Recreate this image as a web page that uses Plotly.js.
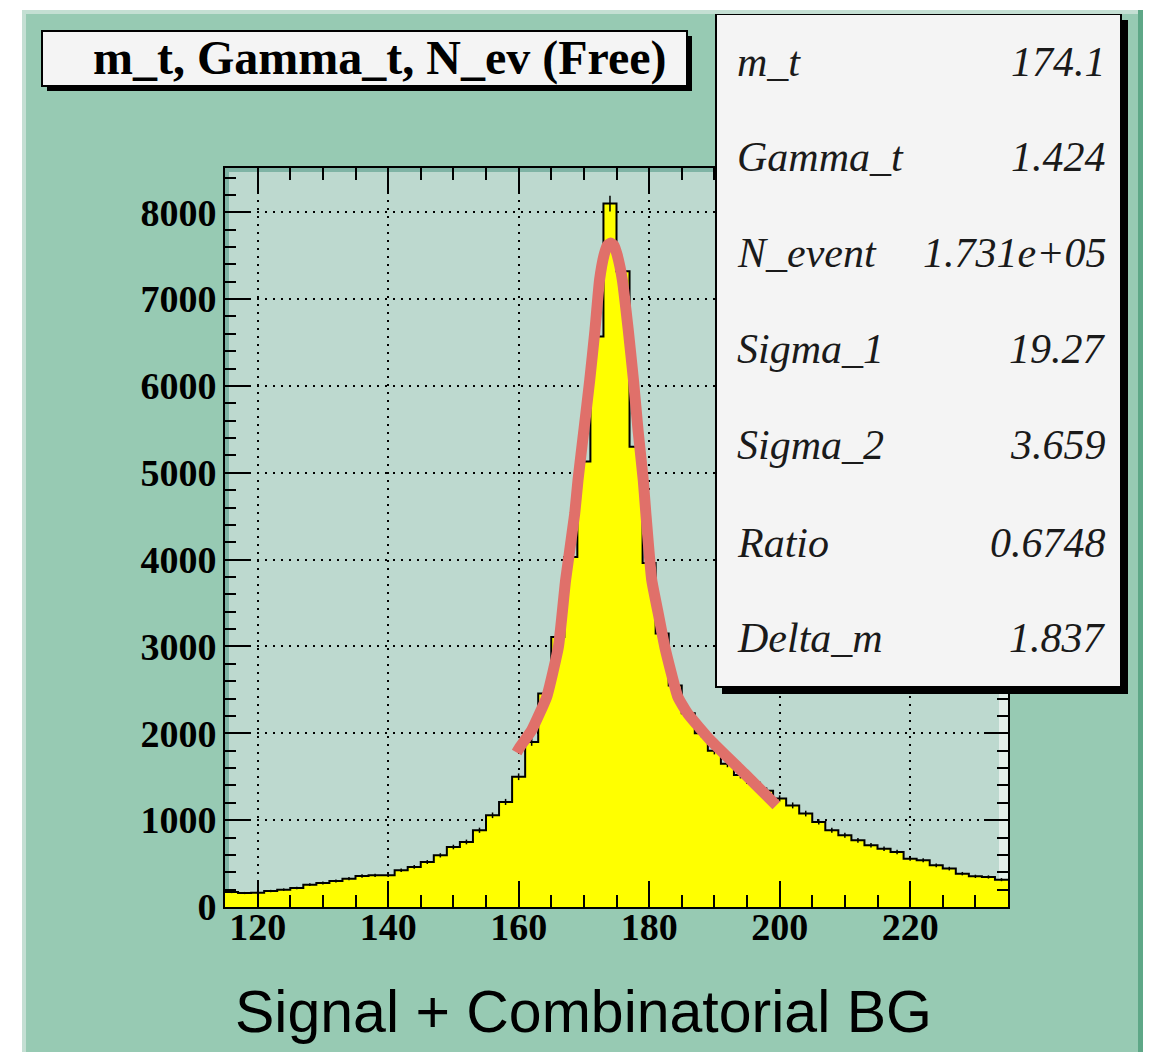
<!DOCTYPE html>
<html>
<head>
<meta charset="utf-8">
<script src="https://cdn.plot.ly/plotly-3.0.1.min.js"></script>
<style>
  html, body { margin: 0; padding: 0; background: #ffffff; }
  body { width: 1151px; height: 1052px; position: relative; overflow: hidden; }
  #chart { position: absolute; left: 22px; top: 10px; width: 1121px; height: 1042px; }
  .edge { position: absolute; pointer-events: none; }
</style>
</head>
<body>
<div id="chart"></div>
<div class="edge" style="left:22px;top:10px;width:1121px;height:4px;background:#c4dfd3;"></div>
<div class="edge" style="left:22px;top:10px;width:4px;height:1042px;background:#c4dfd3;"></div>
<div class="edge" style="left:1138px;top:10px;width:5px;height:1042px;background:#5ea787;"></div>
<script>
// ---- data ----
const massBins = [116,118,120,122,124,126,128,130,132,134,136,138,140,142,144,146,148,150,152,154,
                  156,158,160,162,164,166,168,170,172,174,176,178,180,182,184,186,188,190,192,194,
                  196,198,200,202,204,206,208,210,212,214,216,218,220,222,224,226,228,230,232,234];
const counts = [173,161,165,184,200,219,257,277,300,326,357,365,365,423,461,518,595,691,749,884,
                1056,1210,1500,1900,2460,3110,4030,5130,6570,8100,7320,5300,3960,3150,2550,2230,2000,1800,1650,1520,
                1430,1340,1250,1170,1076,980,884,826,768,711,672,634,557,538,480,442,384,353,346,315];
const binWidth = 2;

const fitMass = [159.7,160.2,162.0,164.3,166.1,167.2,168.6,169.1,170.0,170.9,171.7,172.4,173.1,173.6,174.1,174.6,175.1,
                 175.9,176.8,177.6,178.3,179.1,179.5,180.4,181.4,182.4,184.4,185.9,189.4,194.6,199.5];
const fitValues = [1780,1843,2036,2419,2995,3764,4532,4916,5492,6069,6645,7220,7510,7620,7645,7620,7510,
                   7220,6645,6069,5492,4916,4532,3764,3380,2995,2419,2228,1920,1537,1170];

const xTickVals = [120,140,160,180,200,220];
const yTickVals = [0,1000,2000,3000,4000,5000,6000,7000,8000];

const titleText = 'm_t, Gamma_t, N_ev (Free)';
const statNames = ['m_t','Gamma_t','N_event','Sigma_1','Sigma_2','Ratio','Delta_m'];
const statValues = ['174.1','1.424','1.731e+05','19.27','3.659','0.6748','1.837'];
const captionText = 'Signal + Combinatorial BG';

// ---- geometry (page pixels) ----
const DIV_L = 22, DIV_T = 10, DIV_W = 1121, DIV_H = 1042;
const PL = 225, PR = 1008, PT = 168, PB = 907;
const PW = PR - PL, PH = PB - PT;
const px = X => (X - PL) / PW;
const py = Y => (PB - Y) / PH;

// step outline of the histogram
const edges = massBins.map(c => c - binWidth / 2).concat([massBins[massBins.length - 1] + binWidth / 2]);
const stepY = counts.concat([counts[counts.length - 1]]);

const traces = [
  {
    type: 'scatter', x: edges, y: stepY, mode: 'lines',
    line: {shape: 'hv', color: '#000000', width: 2},
    fill: 'tozeroy', fillcolor: '#ffff00', hoverinfo: 'skip', showlegend: false
  },
  {
    type: 'scatter', x: massBins, y: counts, mode: 'markers',
    marker: {size: 1, color: 'rgba(0,0,0,0)'},
    error_y: {type: 'sqrt', color: '#000000', thickness: 1.5, width: 0},
    hoverinfo: 'skip', showlegend: false
  },
  {
    type: 'scatter', x: fitMass, y: fitValues, mode: 'lines',
    line: {color: '#e0706a', width: 11, shape: 'spline', smoothing: 0.4},
    hoverinfo: 'skip', showlegend: false
  }
];

const serif = '"Liberation Serif", "Times New Roman", serif';
const tickFont = {family: serif, size: 38, weight: 700, color: '#000000'};
const statFont = {family: serif, size: 42, style: 'italic', color: '#1a1a1a'};

const shapes = [
  // frame 3D edges
  {type: 'rect', xref: 'paper', yref: 'paper', x0: px(225), x1: px(229), y0: 0, y1: 1, fillcolor: '#7fb4a5', line: {width: 0}, layer: 'below'},
  {type: 'rect', xref: 'paper', yref: 'paper', x0: 0, x1: 1, y0: py(172), y1: 1, fillcolor: '#7fb4a5', line: {width: 0}, layer: 'below'},
  {type: 'rect', xref: 'paper', yref: 'paper', x0: px(999), x1: 1, y0: 0, y1: 1, fillcolor: '#e3eeea', line: {width: 0}, layer: 'below'},
  // title box shadow + box
  {type: 'rect', xref: 'paper', yref: 'paper', x0: px(47), x1: px(692), y0: py(91), y1: py(36), fillcolor: '#000000', line: {width: 0}},
  {type: 'rect', xref: 'paper', yref: 'paper', x0: px(42), x1: px(687), y0: py(86), y1: py(31), fillcolor: '#f4f4f4', line: {color: '#000000', width: 2}},
  // stats box shadow + box
  {type: 'rect', xref: 'paper', yref: 'paper', x0: px(722), x1: px(1128), y0: py(694), y1: py(20), fillcolor: '#000000', line: {width: 0}},
  {type: 'rect', xref: 'paper', yref: 'paper', x0: px(716), x1: px(1121), y0: py(687), y1: py(14), fillcolor: '#f4f4f4', line: {color: '#000000', width: 2}}
];

const annotations = [
  {xref: 'paper', yref: 'paper', x: px(380), y: py(58), xanchor: 'center', yanchor: 'middle', showarrow: false,
   text: titleText, font: {family: serif, size: 48, weight: 700, color: '#000000'}},
  {xref: 'paper', yref: 'paper', x: px(583), y: py(1012), xanchor: 'center', yanchor: 'middle', showarrow: false,
   text: captionText, font: {family: '"Liberation Sans", Arial, sans-serif', size: 59, color: '#000000'}}
];
const statRowY = [62, 157, 253, 349, 445, 543, 638];
statNames.forEach((n, i) => {
  annotations.push({xref: 'paper', yref: 'paper', x: px(735), y: py(statRowY[i]), xanchor: 'left', yanchor: 'middle',
    showarrow: false, text: n, font: statFont});
  annotations.push({xref: 'paper', yref: 'paper', x: px(1108), y: py(statRowY[i]), xanchor: 'right', yanchor: 'middle',
    showarrow: false, text: statValues[i], font: statFont});
});

const layout = {
  width: DIV_W, height: DIV_H,
  margin: {l: PL - DIV_L, r: DIV_L + DIV_W - PR, t: PT - DIV_T, b: DIV_T + DIV_H - PB, pad: 0},
  paper_bgcolor: '#97cab3',
  plot_bgcolor: '#bdd9cf',
  showlegend: false,
  xaxis: {
    range: [115, 235], tickvals: xTickVals, ticktext: xTickVals.map(String),
    ticks: 'inside', ticklen: 26, tickwidth: 2, tickcolor: '#000000',
    minor: {dtick: 5, tick0: 0, ticks: 'inside', ticklen: 12, tickwidth: 2, tickcolor: '#000000', showgrid: false},
    showgrid: true, gridcolor: '#000000', gridwidth: 2, griddash: '2px,6px',
    showline: true, linecolor: '#000000', linewidth: 2, mirror: 'allticks',
    zeroline: false, tickfont: tickFont, ticklabelstandoff: -15
  },
  yaxis: {
    range: [0, 8510], tickvals: yTickVals, ticktext: yTickVals.map(String),
    ticks: 'inside', ticklen: 24, tickwidth: 2, tickcolor: '#000000',
    minor: {dtick: 200, tick0: 0, ticks: 'inside', ticklen: 11, tickwidth: 2, tickcolor: '#000000', showgrid: false},
    showgrid: true, gridcolor: '#000000', gridwidth: 2, griddash: '2px,6px',
    showline: true, linecolor: '#000000', linewidth: 2, mirror: 'allticks',
    zeroline: false, tickfont: tickFont, ticklabelstandoff: -1
  },
  shapes: shapes,
  annotations: annotations
};

Plotly.newPlot('chart', traces, layout, {staticPlot: true, displayModeBar: false});
</script>
</body>
</html>
